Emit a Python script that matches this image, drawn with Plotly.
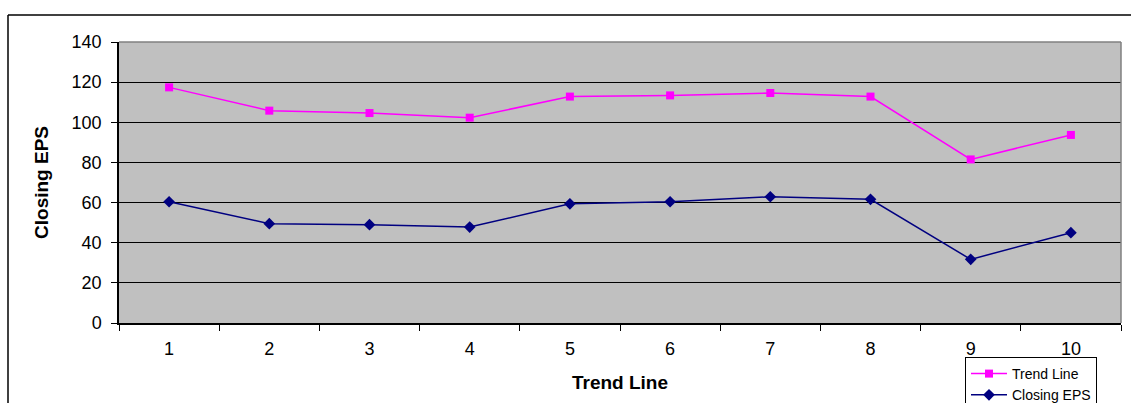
import plotly.graph_objects as go

categories = ["1", "2", "3", "4", "5", "6", "7", "8", "9", "10"]
trend_line = [117.4, 105.8, 104.6, 102.3, 112.8, 113.4, 114.6, 112.8, 81.5, 93.7]
closing_eps = [60.4, 49.5, 49.0, 47.8, 59.4, 60.4, 62.9, 61.6, 31.7, 45.0]
y_ticks = [0, 20, 40, 60, 80, 100, 120, 140]

FONT = "Liberation Sans, Arial, sans-serif"

fig = go.Figure()
fig.add_trace(go.Scatter(
    x=categories, y=trend_line, name="Trend Line", mode="lines+markers",
    line=dict(color="#FF00FF", width=1.5),
    marker=dict(symbol="square", size=8, color="#FF00FF"),
))
fig.add_trace(go.Scatter(
    x=categories, y=closing_eps, name="Closing EPS", mode="lines+markers",
    line=dict(color="#000080", width=1.5),
    marker=dict(symbol="diamond", size=9, color="#000080"),
))

L, R, T, B = 119, 10, 42, 80
W, H = 1131, 403
pw = W - L - R
ph = H - T - B
YB = T + ph

def px(x):
    return (x - L) / pw

def py(y):
    return (YB - y) / ph

fig.update_layout(
    width=W, height=H,
    margin=dict(l=L, r=R, t=T, b=B, autoexpand=False),
    paper_bgcolor="white",
    plot_bgcolor="#C0C0C0",
    font=dict(family=FONT, color="black"),
    showlegend=True,
    legend=dict(
        x=px(965), y=py(357), xanchor="left", yanchor="top",
        bgcolor="white", bordercolor="black", borderwidth=1,
        font=dict(size=14, family=FONT, color="black"),
        tracegroupgap=0, itemwidth=36,
    ),
    shapes=[
        dict(type="line", xref="paper", yref="paper", x0=0, x1=1, y0=1, y1=1,
             line=dict(color="#808080", width=1.5)),
        dict(type="line", xref="paper", yref="paper", x0=1, x1=1, y0=0, y1=1,
             line=dict(color="#808080", width=1.5)),
        dict(type="line", xref="paper", yref="paper",
             x0=px(8), x1=px(W), y0=py(15), y1=py(15),
             line=dict(color="black", width=1.5)),
        dict(type="line", xref="paper", yref="paper",
             x0=px(8), x1=px(8), y0=py(15), y1=py(403),
             line=dict(color="black", width=1.5)),
    ],
)

fig.update_xaxes(
    type="category",
    tickson="boundaries",
    ticks="outside", ticklen=6, tickcolor="black", tickwidth=1,
    showline=True, linecolor="black", linewidth=1.5,
    showgrid=False,
    tickfont=dict(size=18, family=FONT, color="black"),
    ticklabelstandoff=9,
    title=dict(text="<b>Trend Line</b>", font=dict(size=19, family=FONT, color="black"), standoff=17),
    range=[-0.5, 9.5],
)
fig.update_yaxes(
    range=[0, 140],
    tickvals=y_ticks,
    ticks="outside", ticklen=6, tickcolor="black", tickwidth=1,
    showline=True, linecolor="black", linewidth=1.5,
    showgrid=True, gridcolor="black", gridwidth=1.2,
    zeroline=False,
    tickfont=dict(size=18, family=FONT, color="black"),
    ticklabelstandoff=6,
    title=dict(text="<b>Closing EPS</b>", font=dict(size=19, family=FONT, color="black"), standoff=18),
)

fig.write_html("out.html")
